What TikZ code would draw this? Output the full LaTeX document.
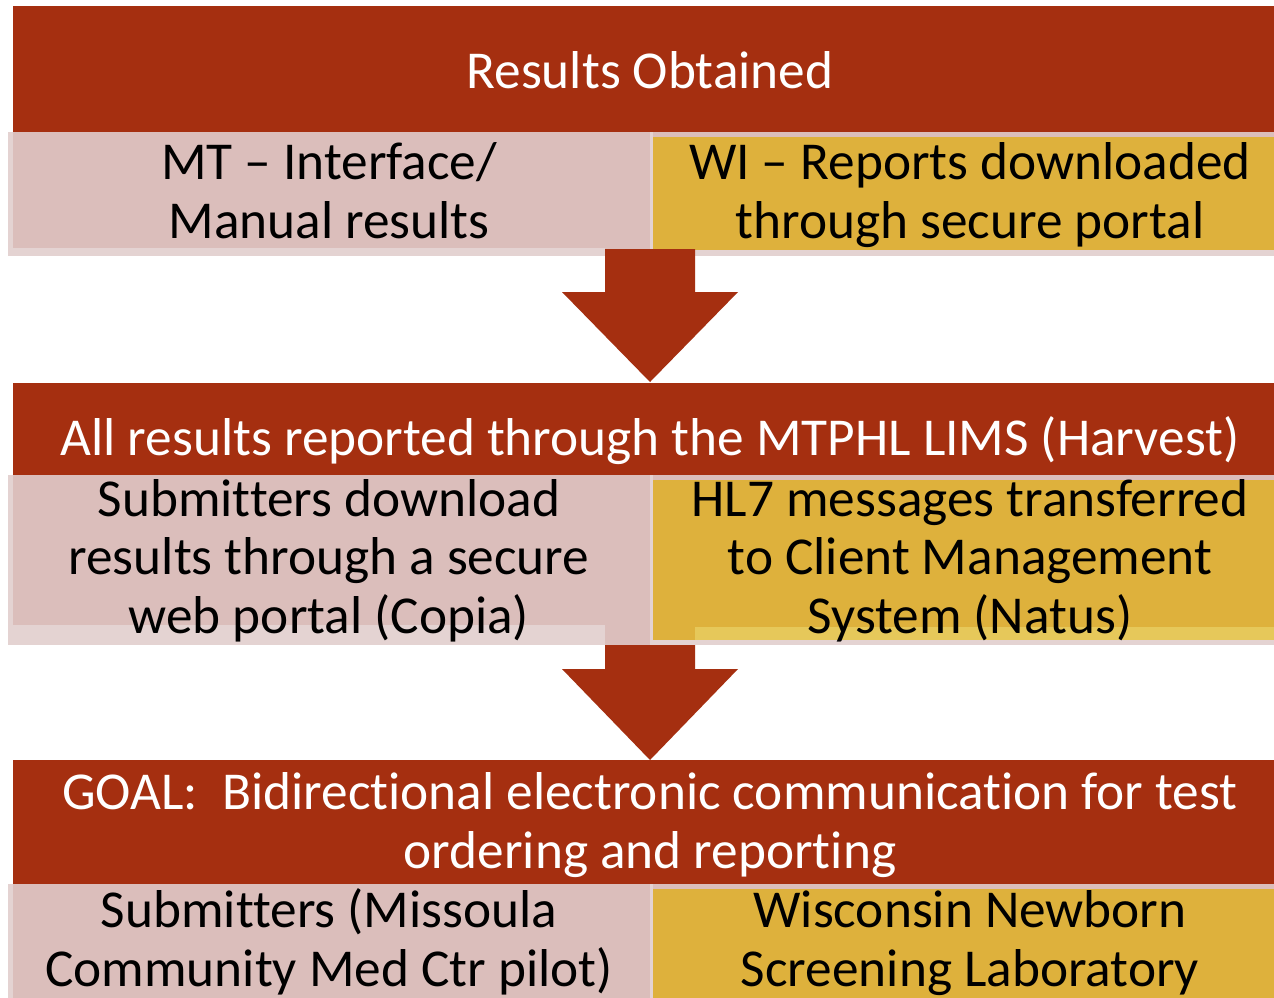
\documentclass[tikz,border=0pt]{standalone}
\usepackage{fontspec}
\setmainfont{Carlito}[Ligatures={NoCommon}]
\definecolor{hdred}{HTML}{A52F10}
\definecolor{pinkA}{HTML}{DBBEBB}
\definecolor{pinkL}{HTML}{E4D3D2}
\definecolor{yelA}{HTML}{DEB13C}
\definecolor{yelL}{HTML}{E6C85A}
\begin{document}
\begin{tikzpicture}[x=1pt,y=-1pt,
  blk/.style={inner sep=0pt, outer sep=0pt, anchor=north west, draw=none},
  txt/.style={inner sep=0pt, outer sep=0pt, align=center, anchor=base,
    font=\fontsize{53.3}{58.5}\selectfont},
  hdtxt/.style={txt, text=white},
  bodytxt/.style={txt, text=black}]
\useasboundingbox (0,0) rectangle (1274,997);
\clip (0,0) rectangle (1274,997);
\fill[white] (0,0) rectangle (1274,997);

% ---------- row 1 ----------
\node[blk, fill=hdred, minimum width=1270pt, minimum height=126pt] (h1) at (13,6) {};
\node[blk, fill=pinkL, minimum width=1270pt, minimum height=124pt] (r1) at (8,132) {};
\node[blk, fill=pinkA, minimum width=637pt, minimum height=116pt] (p1) at (13,132) {};
\node[blk, fill=pinkA, minimum width=45pt, minimum height=124pt] at (605,132) {};
\node[blk, fill=pinkA, minimum width=625pt, minimum height=5pt] at (653,132) {};
\node[blk, fill=yelA, minimum width=625pt, minimum height=113pt] (y1) at (653,137) {};
\node[blk, fill=pinkL, minimum width=3pt, minimum height=124pt] at (650,132) {};

% ---------- arrow 1 ----------
\coordinate (a1p) at (650,382);
\fill[hdred] (605,249) -- (695,249) -- (695,292) -- (738,292) -- (a1p) -- (562,292) -- (605,292) -- cycle;

% ---------- row 2 ----------
\node[blk, fill=hdred, minimum width=1270pt, minimum height=92pt] (h2) at (13,383) {};
\node[blk, fill=pinkL, minimum width=1270pt, minimum height=170pt] (r2) at (8,475) {};
\node[blk, fill=pinkA, minimum width=637pt, minimum height=150pt] (p2) at (13,475) {};
\node[blk, fill=pinkA, minimum width=45pt, minimum height=170pt] at (605,475) {};
\node[blk, fill=pinkA, minimum width=625pt, minimum height=5pt] at (653,475) {};
\node[blk, fill=yelA, minimum width=625pt, minimum height=160pt] (y2) at (653,480) {};
\node[blk, fill=yelL, minimum width=585pt, minimum height=13pt] at (695,627) {};
\node[blk, fill=pinkL, minimum width=3pt, minimum height=170pt] at (650,475) {};

% ---------- arrow 2 ----------
\coordinate (a2p) at (650,760);
\fill[hdred] (605,645) -- (695,645) -- (695,669) -- (738,669) -- (a2p) -- (562,669) -- (605,669) -- cycle;

% ---------- row 3 ----------
\node[blk, fill=hdred, minimum width=1270pt, minimum height=124pt] (h3) at (13,760) {};
\node[blk, fill=pinkL, minimum width=1270pt, minimum height=130pt] (r3) at (8,884) {};
\node[blk, fill=pinkA, minimum width=637pt, minimum height=130pt] (p3) at (13,884) {};
\node[blk, fill=pinkA, minimum width=625pt, minimum height=5pt] at (653,884) {};
\node[blk, fill=yelA, minimum width=625pt, minimum height=125pt] (y3) at (653,889) {};
\node[blk, fill=pinkL, minimum width=3pt, minimum height=130pt] at (650,884) {};

% ---------- texts (base = baseline of last line) ----------
\node[hdtxt] (t1) at (650,88) {Results Obtained};
\node[bodytxt] (t1l) at (329,238) {MT – Interface/\\Manual results};
\node[bodytxt] (t1r) at (970,238) {WI – Reports downloaded\\through secure portal};
\node[hdtxt] (t2) at (650,455) {All results reported through the MTPHL LIMS (Harvest)};
\node[bodytxt] (t2l) at (329,633) {Submitters download\\results through a secure\\web portal (Copia)};
\node[bodytxt] (t2r) at (970,633) {HL7 messages transferred\\to Client Management\\System (Natus)};
\node[hdtxt] (t3) at (650,868) {GOAL:\ \ Bidirectional electronic communication for test\\ordering and reporting};
\node[bodytxt] (t3l) at (329,986) {Submitters (Missoula\\Community Med Ctr pilot)};
\node[bodytxt] (t3r) at (970,986) {Wisconsin Newborn\\Screening Laboratory};
\end{tikzpicture}
\end{document}
